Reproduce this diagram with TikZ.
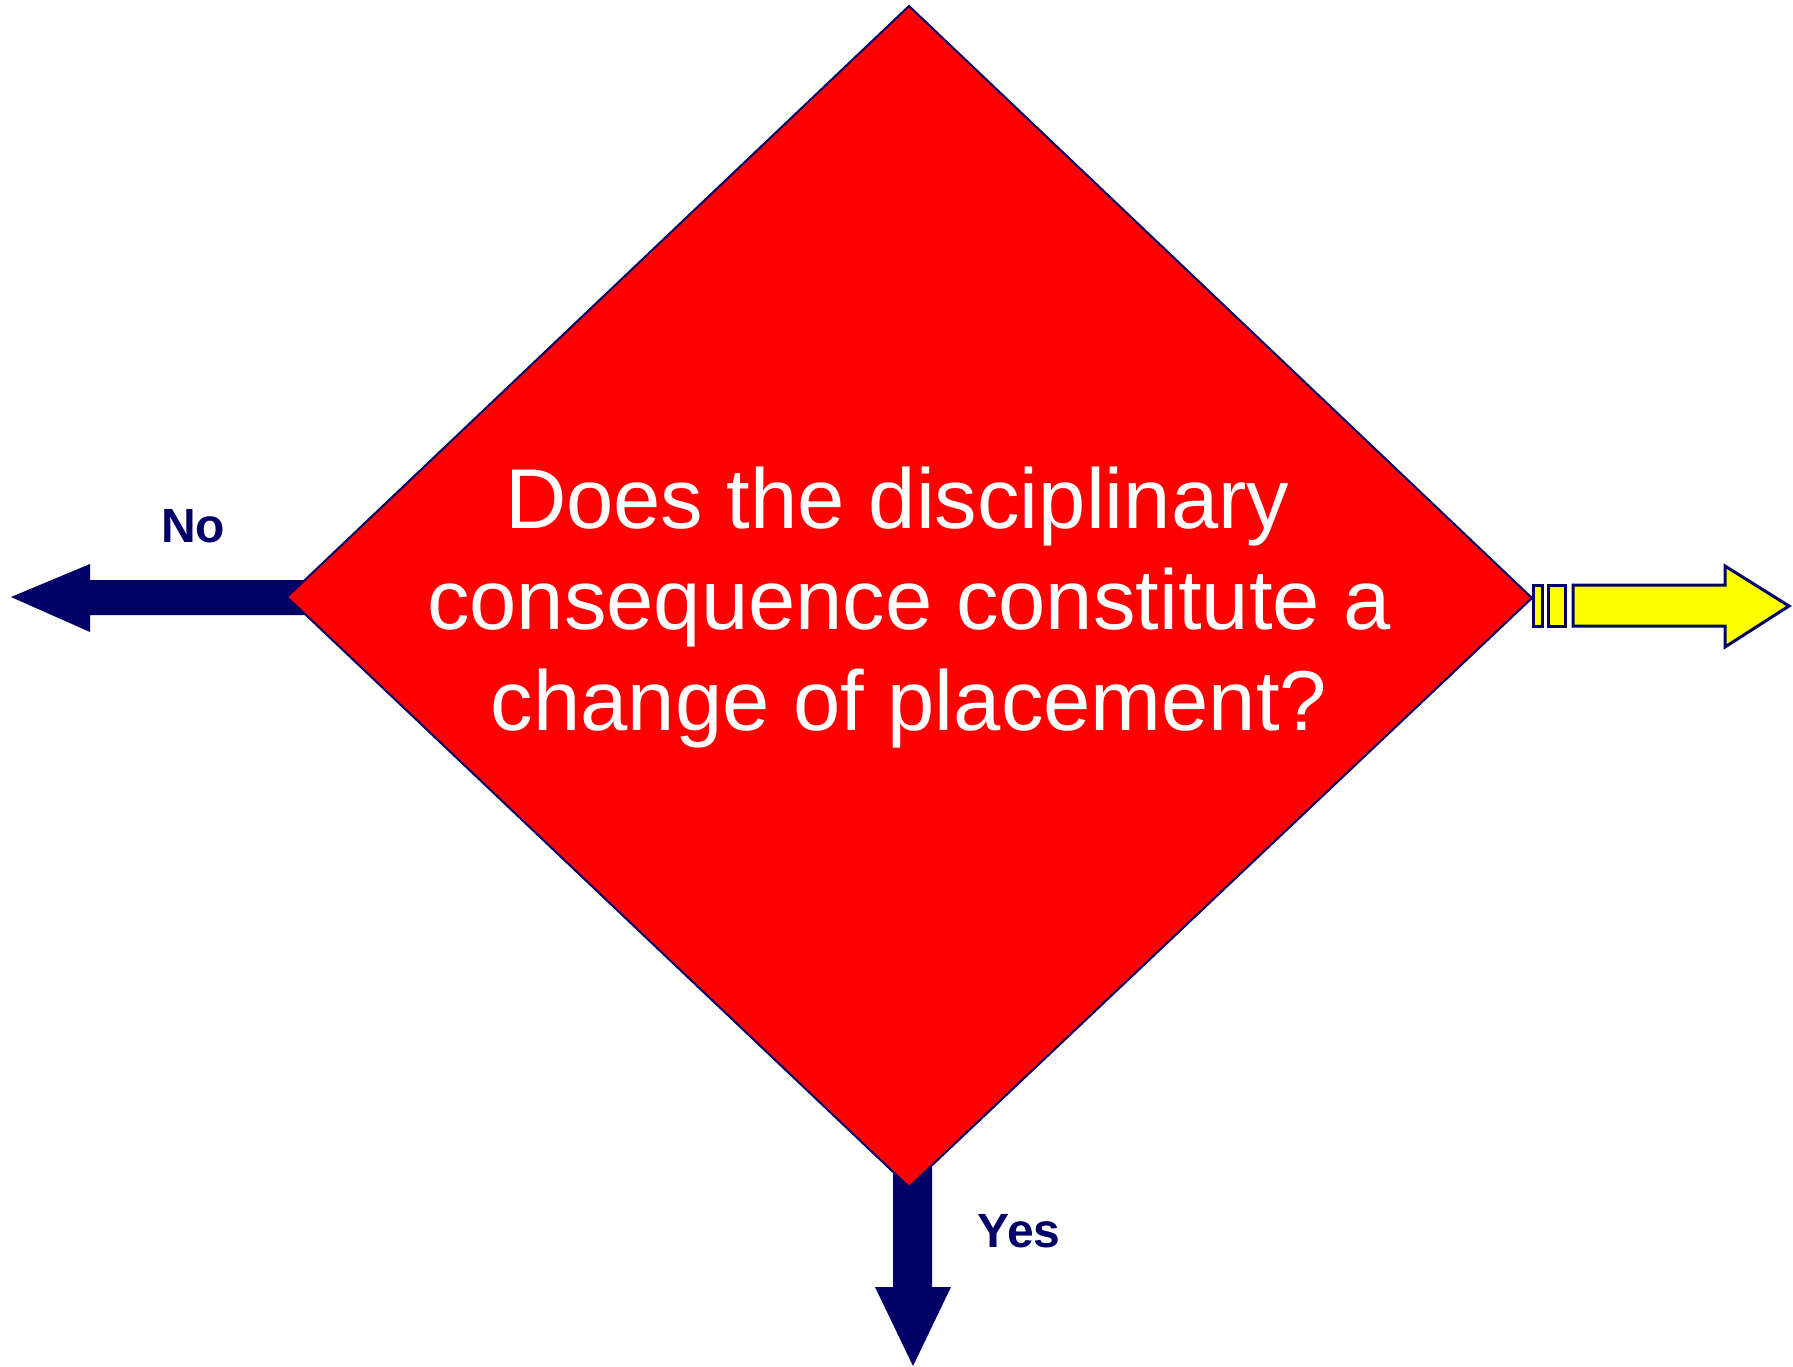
\documentclass[tikz,border=0pt]{standalone}
\usepackage{fontspec}
\setmainfont{Liberation Sans}
\definecolor{navy}{RGB}{0,0,102}
\definecolor{dred}{RGB}{255,0,0}
\definecolor{ylw}{RGB}{255,255,0}
\begin{document}
\begin{tikzpicture}[x=1pt,y=-1pt,
  blockarrow/.style={fill=navy,draw=none},
  outlinebox/.style={fill=ylw,draw=navy,line width=3pt,line join=miter},
  lbl/.style={text=navy,font=\fontsize{48}{56}\selectfont\bfseries,anchor=base,inner sep=0pt},
  question/.style={text=white,font=\fontsize{85}{101}\selectfont,align=center,inner sep=0pt}]
\useasboundingbox (0,0) rectangle (1793,1366);
% diamond corners
\coordinate (dt) at (909,6);
\coordinate (dl) at (287,597);
\coordinate (dr) at (1532,598);
\coordinate (db) at (909,1187);
% No arrow (left)
\draw[blockarrow] (11,597) -- (90,564) -- (90,580) -- (320,580) -- (320,615) -- (90,615) -- (90,632) -- cycle;
% Yes arrow (down)
\draw[blockarrow] (893,1150) -- (932,1150) -- (932,1287) -- (951,1287) -- (913,1366) -- (875,1287) -- (893,1287) -- cycle;
% diamond
\draw[fill=dred,draw=navy,line width=2pt,line join=miter] (dt) -- (dr) -- (db) -- (dl) -- cycle;
% right striped arrow
\draw[outlinebox] (1533,585) rectangle (1542,626);
\draw[outlinebox] (1548,585) rectangle (1565,626);
\draw[outlinebox] (1573,585) -- (1725,585) -- (1725,566) -- (1789,606) -- (1725,647) -- (1725,626) -- (1573,626) -- cycle;
% texts
\node[question] (q) at (909,608) {Does the disciplinary\kern0.278em\\consequence constitute a\\change of placement?};
\node[lbl] (no) at (193,542) {No};
\node[lbl] (yes) at (1019,1247) {Yes};
\end{tikzpicture}
\end{document}
